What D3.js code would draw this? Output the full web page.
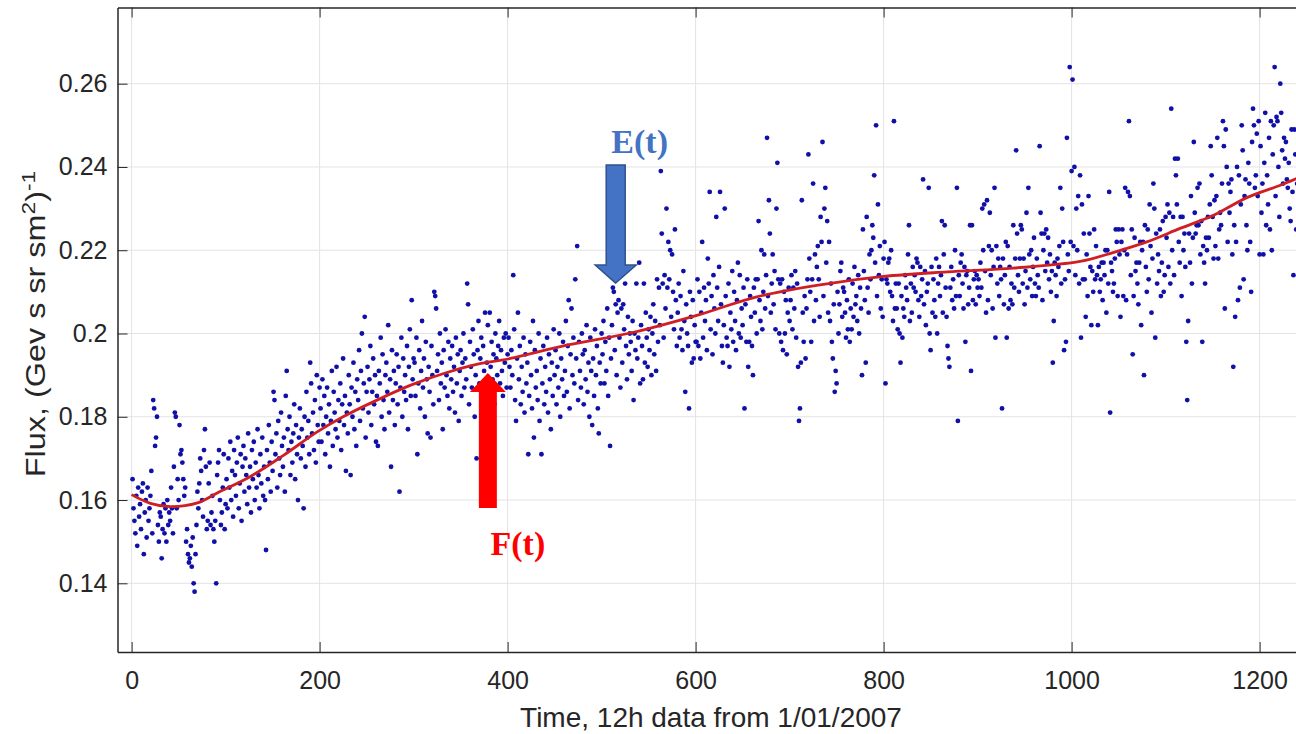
<!DOCTYPE html>
<html lang="en">
<head>
  <meta charset="UTF-8">
  <title>Flux vs time</title>
  <script src="https://d3js.org/d3.v7.min.js"></script>
  <style>
    body { margin: 0; background: #fff; }
    svg { display: block; }
    .axis text { font-family: "Liberation Sans", Arial, sans-serif; font-size: 25px; fill: #262626; }
    .axis path, .axis line { stroke: #262626; }
  </style>
</head>
<body>
<svg width="1296" height="734"></svg>
<script>
// flux values, one per 12h step, t = 1 .. 1240
const flux0001 = [
  0.165, 0.158, 0.155, 0.152, 0.161, 0.149, 0.163, 0.156, 0.159, 0.153,
  0.162, 0.164, 0.147, 0.157, 0.160, 0.151, 0.163, 0.155, 0.158, 0.161,
  0.167, 0.152, 0.184, 0.182, 0.173, 0.175, 0.180, 0.154, 0.150, 0.157,
  0.156, 0.146, 0.153, 0.159, 0.152, 0.158, 0.150, 0.160, 0.154, 0.157,
  0.155, 0.163, 0.158, 0.152, 0.168, 0.181, 0.180, 0.158, 0.165, 0.160,
  0.178, 0.171, 0.172, 0.169, 0.165, 0.161, 0.163, 0.150, 0.153, 0.147,
  0.145, 0.146, 0.149, 0.144, 0.151, 0.140, 0.138, 0.147, 0.154, 0.162,
  0.158, 0.164, 0.170, 0.167, 0.160, 0.156, 0.172, 0.177, 0.168, 0.153,
  0.155, 0.164, 0.169, 0.154, 0.157, 0.161, 0.153, 0.150, 0.155, 0.140,
  0.166, 0.169, 0.172, 0.160, 0.154, 0.157, 0.163, 0.171, 0.153, 0.159
];
const flux0101 = [
  0.165, 0.158, 0.170, 0.163, 0.174, 0.160, 0.167, 0.156, 0.172, 0.166,
  0.161, 0.169, 0.175, 0.158, 0.164, 0.171, 0.155, 0.168, 0.173, 0.162,
  0.170, 0.166, 0.159, 0.176, 0.163, 0.168, 0.157, 0.172, 0.165, 0.174,
  0.160, 0.169, 0.163, 0.177, 0.166, 0.158, 0.171, 0.164, 0.175, 0.161,
  0.168, 0.160, 0.148, 0.172, 0.165, 0.178, 0.169, 0.162, 0.174, 0.167,
  0.186, 0.184, 0.171, 0.176, 0.163, 0.179, 0.170, 0.166, 0.181, 0.173,
  0.168, 0.175, 0.162, 0.185, 0.191, 0.177, 0.172, 0.180, 0.166, 0.174,
  0.169, 0.176, 0.183, 0.165, 0.178, 0.171, 0.160, 0.175, 0.182, 0.170,
  0.177, 0.173, 0.158, 0.180, 0.168, 0.186, 0.175, 0.179, 0.171, 0.193,
  0.188, 0.176, 0.181, 0.172, 0.184, 0.169, 0.190, 0.178, 0.174, 0.187
];
const flux0201 = [
  0.182, 0.174, 0.189, 0.178, 0.185, 0.171, 0.180, 0.187, 0.176, 0.183,
  0.168, 0.179, 0.191, 0.173, 0.186, 0.181, 0.177, 0.192, 0.175, 0.184,
  0.179, 0.188, 0.172, 0.183, 0.194, 0.178, 0.185, 0.167, 0.181, 0.176,
  0.190, 0.183, 0.166, 0.187, 0.180, 0.193, 0.177, 0.186, 0.173, 0.189,
  0.184, 0.196, 0.179, 0.191, 0.200, 0.182, 0.188, 0.204, 0.175, 0.186,
  0.192, 0.181, 0.189, 0.197, 0.178, 0.186, 0.194, 0.183, 0.190, 0.174,
  0.185, 0.173, 0.191, 0.188, 0.199, 0.180, 0.195, 0.184, 0.177, 0.190,
  0.193, 0.186, 0.202, 0.181, 0.189, 0.168, 0.196, 0.184, 0.191, 0.178,
  0.188, 0.195, 0.183, 0.192, 0.162, 0.187, 0.199, 0.180, 0.194, 0.186,
  0.190, 0.184, 0.197, 0.177, 0.192, 0.201, 0.185, 0.208, 0.189, 0.194
];
const flux0301 = [
  0.193, 0.185, 0.199, 0.171, 0.188, 0.196, 0.182, 0.191, 0.203, 0.187,
  0.194, 0.180, 0.198, 0.189, 0.176, 0.192, 0.186, 0.175, 0.197, 0.190,
  0.183, 0.210, 0.209, 0.206, 0.191, 0.195, 0.184, 0.200, 0.188, 0.193,
  0.177, 0.196, 0.187, 0.201, 0.190, 0.185, 0.198, 0.182, 0.194, 0.189,
  0.197, 0.186, 0.192, 0.181, 0.199, 0.188, 0.195, 0.179, 0.191, 0.196,
  0.185, 0.193, 0.200, 0.187, 0.194, 0.189, 0.212, 0.207, 0.183, 0.198,
  0.192, 0.187, 0.201, 0.195, 0.180, 0.190, 0.170, 0.196, 0.203, 0.188,
  0.194, 0.199, 0.185, 0.197, 0.191, 0.205, 0.188, 0.193, 0.202, 0.186,
  0.205, 0.192, 0.198, 0.189, 0.195, 0.183, 0.200, 0.194, 0.190, 0.197,
  0.203, 0.188, 0.196, 0.191, 0.185, 0.199, 0.193, 0.200, 0.187, 0.195
];
const flux0401 = [
  0.199, 0.192, 0.187, 0.196, 0.190, 0.214, 0.201, 0.184, 0.179, 0.194,
  0.205, 0.189, 0.197, 0.183, 0.192, 0.186, 0.199, 0.181, 0.195, 0.188,
  0.193, 0.171, 0.185, 0.198, 0.190, 0.182, 0.203, 0.175, 0.196, 0.187,
  0.191, 0.184, 0.200, 0.179, 0.194, 0.171, 0.188, 0.197, 0.183, 0.192,
  0.186, 0.199, 0.181, 0.195, 0.189, 0.177, 0.193, 0.185, 0.201, 0.190,
  0.196, 0.183, 0.192, 0.187, 0.200, 0.180, 0.194, 0.189, 0.198, 0.185,
  0.191, 0.203, 0.186, 0.197, 0.208, 0.182, 0.195, 0.206, 0.190, 0.199,
  0.188, 0.213, 0.194, 0.221, 0.184, 0.198, 0.191, 0.187, 0.200, 0.195,
  0.183, 0.196, 0.189, 0.202, 0.186, 0.193, 0.180, 0.199, 0.191, 0.178,
  0.194, 0.185, 0.201, 0.190, 0.197, 0.182, 0.176, 0.193, 0.188, 0.200
];
const flux0501 = [
  0.195, 0.203, 0.188, 0.198, 0.191, 0.206, 0.185, 0.199, 0.173, 0.194,
  0.202, 0.211, 0.210, 0.196, 0.207, 0.190, 0.205, 0.208, 0.199, 0.187,
  0.206, 0.193, 0.207, 0.201, 0.212, 0.197, 0.189, 0.204, 0.195, 0.200,
  0.198, 0.191, 0.203, 0.184, 0.200, 0.196, 0.212, 0.194, 0.199, 0.217,
  0.188, 0.202, 0.197, 0.189, 0.212, 0.193, 0.205, 0.199, 0.192, 0.201,
  0.196, 0.204, 0.190, 0.200, 0.207, 0.195, 0.203, 0.191, 0.213, 0.198,
  0.211, 0.202, 0.239, 0.224, 0.212, 0.199, 0.214, 0.206, 0.230, 0.211,
  0.222, 0.213, 0.220, 0.204, 0.219, 0.210, 0.201, 0.225, 0.208, 0.197,
  0.205, 0.212, 0.199, 0.209, 0.201, 0.196, 0.215, 0.203, 0.186, 0.207,
  0.200, 0.197, 0.182, 0.210, 0.204, 0.193, 0.208, 0.194, 0.202, 0.198
];
const flux0601 = [
  0.198, 0.213, 0.197, 0.210, 0.194, 0.205, 0.222, 0.199, 0.211, 0.203,
  0.208, 0.196, 0.218, 0.212, 0.234, 0.201, 0.209, 0.195, 0.214, 0.206,
  0.200, 0.228, 0.211, 0.203, 0.216, 0.234, 0.207, 0.197, 0.193, 0.202,
  0.230, 0.209, 0.199, 0.197, 0.212, 0.192, 0.205, 0.201, 0.215, 0.198,
  0.210, 0.203, 0.196, 0.208, 0.217, 0.200, 0.214, 0.199, 0.206, 0.202,
  0.211, 0.182, 0.207, 0.198, 0.213, 0.192, 0.198, 0.209, 0.204, 0.197,
  0.190, 0.211, 0.205, 0.213, 0.200, 0.213, 0.227, 0.208, 0.203, 0.220,
  0.201, 0.210, 0.219, 0.206, 0.214, 0.247, 0.209, 0.232, 0.224, 0.205,
  0.212, 0.219, 0.207, 0.215, 0.201, 0.230, 0.241, 0.213, 0.200, 0.212,
  0.198, 0.213, 0.196, 0.210, 0.200, 0.208, 0.195, 0.205, 0.211, 0.203
];
const flux0701 = [
  0.208, 0.214, 0.201, 0.211, 0.206, 0.215, 0.199, 0.212, 0.192, 0.179,
  0.182, 0.193, 0.232, 0.205, 0.198, 0.209, 0.194, 0.206, 0.213, 0.243,
  0.218, 0.210, 0.198, 0.213, 0.236, 0.203, 0.219, 0.208, 0.216, 0.221,
  0.213, 0.204, 0.228, 0.222, 0.246, 0.209, 0.230, 0.235, 0.217, 0.227,
  0.205, 0.222, 0.203, 0.212, 0.198, 0.194, 0.207, 0.186, 0.191, 0.188,
  0.210, 0.200, 0.207, 0.215, 0.217, 0.204, 0.211, 0.210, 0.205, 0.199,
  0.208, 0.201, 0.213, 0.198, 0.206, 0.201, 0.212, 0.204, 0.216, 0.207,
  0.209, 0.203, 0.214, 0.200, 0.211, 0.206, 0.190, 0.225, 0.215, 0.208,
  0.193, 0.228, 0.211, 0.205, 0.219, 0.213, 0.220, 0.226, 0.223, 0.238,
  0.217, 0.250, 0.209, 0.231, 0.214, 0.221, 0.206, 0.213, 0.204, 0.218
];
const flux0801 = [
  0.222, 0.188, 0.213, 0.212, 0.217, 0.218, 0.210, 0.220, 0.209, 0.203,
  0.251, 0.206, 0.212, 0.206, 0.201, 0.212, 0.200, 0.193, 0.209, 0.199,
  0.206, 0.204, 0.214, 0.211, 0.208, 0.219, 0.226, 0.203, 0.212, 0.205,
  0.216, 0.211, 0.214, 0.210, 0.218, 0.217, 0.208, 0.204, 0.216, 0.209,
  0.213, 0.237, 0.207, 0.215, 0.202, 0.210, 0.212, 0.235, 0.200, 0.196,
  0.216, 0.205, 0.213, 0.208, 0.204, 0.218, 0.200, 0.212, 0.216, 0.209,
  0.214, 0.227, 0.205, 0.219, 0.226, 0.211, 0.204, 0.197, 0.194, 0.192,
  0.211, 0.216, 0.208, 0.213, 0.206, 0.220, 0.209, 0.235, 0.179, 0.214,
  0.209, 0.217, 0.219, 0.212, 0.206, 0.216, 0.198, 0.214, 0.215, 0.207,
  0.211, 0.226, 0.191, 0.226, 0.208, 0.213, 0.215, 0.207, 0.214, 0.211
];
const flux0901 = [
  0.213, 0.209, 0.217, 0.211, 0.230, 0.220, 0.231, 0.215, 0.205, 0.232,
  0.208, 0.221, 0.229, 0.214, 0.220, 0.206, 0.216, 0.235, 0.199, 0.221,
  0.212, 0.218, 0.209, 0.216, 0.213, 0.182, 0.218, 0.207, 0.214, 0.222,
  0.199, 0.221, 0.206, 0.216, 0.208, 0.212, 0.207, 0.226, 0.211, 0.218,
  0.244, 0.224, 0.214, 0.210, 0.218, 0.226, 0.225, 0.212, 0.218, 0.207,
  0.215, 0.229, 0.211, 0.235, 0.219, 0.213, 0.220, 0.209, 0.216, 0.223,
  0.212, 0.209, 0.218, 0.214, 0.211, 0.245, 0.229, 0.224, 0.208, 0.220,
  0.224, 0.215, 0.225, 0.217, 0.223, 0.213, 0.219, 0.210, 0.215, 0.193,
  0.203, 0.217, 0.214, 0.209, 0.218, 0.216, 0.221, 0.235, 0.212, 0.230,
  0.222, 0.196, 0.213, 0.198, 0.247, 0.219, 0.215, 0.264, 0.222, 0.239
];
const flux1001 = [
  0.261, 0.221, 0.240, 0.214, 0.230, 0.220, 0.233, 0.212, 0.238, 0.199,
  0.231, 0.213, 0.224, 0.213, 0.204, 0.219, 0.209, 0.233, 0.224, 0.216,
  0.202, 0.215, 0.210, 0.225, 0.213, 0.221, 0.214, 0.202, 0.216, 0.210,
  0.213, 0.217, 0.208, 0.217, 0.214, 0.220, 0.205, 0.220, 0.212, 0.234,
  0.181, 0.217, 0.215, 0.210, 0.212, 0.218, 0.225, 0.222, 0.209, 0.225,
  0.219, 0.204, 0.222, 0.225, 0.209, 0.220, 0.235, 0.208, 0.219, 0.234,
  0.251, 0.233, 0.214, 0.225, 0.195, 0.209, 0.223, 0.215, 0.217, 0.212,
  0.207, 0.217, 0.222, 0.202, 0.220, 0.222, 0.190, 0.226, 0.216, 0.210,
  0.225, 0.213, 0.231, 0.221, 0.205, 0.218, 0.236, 0.230, 0.199, 0.224,
  0.212, 0.219, 0.215, 0.225, 0.209, 0.217, 0.227, 0.210, 0.214, 0.228
];
const flux1101 = [
  0.223, 0.231, 0.216, 0.229, 0.212, 0.254, 0.220, 0.228, 0.214, 0.242,
  0.238, 0.231, 0.242, 0.222, 0.217, 0.228, 0.209, 0.228, 0.220, 0.224,
  0.216, 0.198, 0.184, 0.203, 0.224, 0.217, 0.233, 0.212, 0.223, 0.246,
  0.229, 0.224, 0.226, 0.235, 0.226, 0.236, 0.219, 0.227, 0.198, 0.221,
  0.217, 0.212, 0.223, 0.220, 0.228, 0.223, 0.231, 0.245, 0.238, 0.228,
  0.218, 0.232, 0.221, 0.233, 0.247, 0.218, 0.225, 0.229, 0.226, 0.236,
  0.251, 0.245, 0.206, 0.249, 0.240, 0.222, 0.236, 0.229, 0.234, 0.237,
  0.219, 0.192, 0.226, 0.204, 0.222, 0.240, 0.208, 0.238, 0.211, 0.231,
  0.250, 0.244, 0.213, 0.233, 0.237, 0.226, 0.220, 0.241, 0.236, 0.222,
  0.210, 0.246, 0.254, 0.250, 0.235, 0.238, 0.248, 0.233, 0.251, 0.219
];
const flux1201 = [
  0.245, 0.229, 0.236, 0.219, 0.241, 0.253, 0.226, 0.238, 0.231, 0.247,
  0.225, 0.251, 0.220, 0.243, 0.250, 0.264, 0.233, 0.252, 0.251, 0.240,
  0.228, 0.260, 0.253, 0.244, 0.236, 0.247, 0.242, 0.246, 0.237, 0.235,
  0.241, 0.230, 0.227, 0.249, 0.234, 0.214, 0.249, 0.243, 0.225, 0.236
];

// fitted trend F(t)
const fitT    = [0, 20, 41, 70, 91, 126, 162, 197, 225, 261, 297, 332, 367, 403, 463, 534, 605, 665, 736, 800, 868, 938, 1009, 1045, 1080, 1116, 1151, 1187, 1222, 1240];
const fitFlux = [0.1613, 0.1592, 0.1584, 0.1593, 0.1617, 0.1656, 0.1708, 0.1763, 0.1800, 0.1840, 0.1876, 0.1904, 0.1926, 0.1940, 0.1972, 0.2003, 0.2046, 0.2088, 0.2118, 0.2137, 0.2148, 0.2157, 0.2173, 0.2195, 0.2220, 0.2253, 0.2284, 0.2327, 0.2356, 0.2373];

const xTicks = [0, 200, 400, 600, 800, 1000, 1200];
const yTicks = [0.14, 0.16, 0.18, 0.2, 0.22, 0.24, 0.26];

// annotation arrows: tip position in data units
const arrowE = { label: "E(t)", t: 515, v: 0.2121 };
const arrowF = { label: "F(t)", t: 379, v: 0.1905 };

const data = [flux0001, flux0101, flux0201, flux0301, flux0401, flux0501, flux0601,
              flux0701, flux0801, flux0901, flux1001, flux1101, flux1201]
  .flat()
  .map((v, i) => ({ t: i + 1, v: v }));
const fit = fitT.map((t, i) => ({ t: t, v: fitFlux[i] }));

const plotLeft = 117.5, plotTop = 7.5, plotBottom = 652;
const x = d3.scaleLinear().domain([-15, 1240]).range([plotLeft, plotLeft + 1255 * 0.94]);
const y = d3.scaleLinear().domain([0.1235, 0.2783]).range([plotBottom, plotTop]);
const plotRight = x.range()[1];

const svg = d3.select("svg");

// grid
svg.append("g")
  .selectAll("line")
  .data(xTicks)
  .join("line")
  .attr("x1", d => x(d)).attr("x2", d => x(d))
  .attr("y1", plotTop).attr("y2", plotBottom)
  .attr("stroke", "#e3e3e3").attr("stroke-width", 1);
svg.append("g")
  .selectAll("line")
  .data(yTicks)
  .join("line")
  .attr("x1", plotLeft).attr("x2", plotRight)
  .attr("y1", d => y(d)).attr("y2", d => y(d))
  .attr("stroke", "#e3e3e3").attr("stroke-width", 1);

// axes, MATLAB style (ticks inside)
svg.append("g")
  .attr("class", "axis")
  .attr("transform", `translate(0,${plotBottom})`)
  .call(d3.axisBottom(x).tickValues(xTicks).tickSizeInner(-10).tickSizeOuter(0).tickPadding(19).tickFormat(d3.format("d")));
svg.append("g")
  .attr("class", "axis")
  .attr("transform", `translate(0,${plotTop})`)
  .call(d3.axisTop(x).tickValues(xTicks).tickSizeInner(-10).tickSizeOuter(0).tickFormat(""));
svg.append("g")
  .attr("class", "axis")
  .attr("transform", `translate(${plotLeft},0)`)
  .call(d3.axisLeft(y).tickValues(yTicks).tickSizeInner(-10).tickSizeOuter(0).tickPadding(10).tickFormat(d => d === 0.2 ? "0.2" : d3.format(".2f")(d)));
svg.selectAll(".axis .domain").attr("stroke-width", 1.5).attr("stroke", "#3a3a3a");

// scatter
svg.append("g")
  .selectAll("circle")
  .data(data)
  .join("circle")
  .attr("cx", d => x(d.t))
  .attr("cy", d => y(d.v))
  .attr("r", 2.4)
  .attr("fill", "#1010a8");

// fitted curve
svg.append("path")
  .datum(fit)
  .attr("fill", "none")
  .attr("stroke", "#d01f24")
  .attr("stroke-width", 2.8)
  .attr("d", d3.line().x(d => x(d.t)).y(d => y(d.v)).curve(d3.curveCatmullRom.alpha(0.5)));

// arrows
function arrow(a, dir, len, shaftW, headW, headL, fill, stroke) {
  const tx = x(a.t), ty = y(a.v);
  const s = dir; // +1 arrow points down (tail above), -1 points up
  const pts = [
    [tx, ty],
    [tx - headW / 2, ty - s * headL],
    [tx - shaftW / 2, ty - s * headL],
    [tx - shaftW / 2, ty - s * len],
    [tx + shaftW / 2, ty - s * len],
    [tx + shaftW / 2, ty - s * headL],
    [tx + headW / 2, ty - s * headL]
  ];
  svg.append("polygon")
    .attr("points", pts.map(p => p.join(",")).join(" "))
    .attr("fill", fill)
    .attr("stroke", stroke || "none")
    .attr("stroke-width", 1.5);
  return { tx: tx, ty: ty };
}
const pe = arrow(arrowE, 1, 118, 19, 41, 18, "#4472c4", "#2f528f");
const pf = arrow(arrowF, -1, 135, 18, 36, 19, "#ff0000", null);

svg.append("text")
  .attr("x", pe.tx + 24).attr("y", pe.ty - 130)
  .attr("text-anchor", "middle")
  .style("font-family", "'Liberation Serif', 'Times New Roman', serif")
  .style("font-weight", "bold")
  .style("font-size", "34px")
  .attr("fill", "#4472c4")
  .text(arrowE.label);
svg.append("text")
  .attr("x", pf.tx + 30).attr("y", pf.ty + 182)
  .attr("text-anchor", "middle")
  .style("font-family", "'Liberation Serif', 'Times New Roman', serif")
  .style("font-weight", "bold")
  .style("font-size", "34px")
  .attr("fill", "#ff0000")
  .text(arrowF.label);

// axis titles
svg.append("text")
  .attr("x", 711).attr("y", 727)
  .attr("text-anchor", "middle")
  .style("font-family", "'Liberation Sans', Arial, sans-serif")
  .style("font-size", "28px")
  .attr("fill", "#262626")
  .text("Time, 12h data from 1/01/2007");

const yl = svg.append("text")
  .attr("transform", "translate(45,324) rotate(-90) scale(1.2,1)")
  .attr("text-anchor", "middle")
  .style("font-family", "'Liberation Sans', Arial, sans-serif")
  .style("font-size", "27px")
  .attr("fill", "#262626");
yl.append("tspan").text("Flux, (Gev s sr sm");
yl.append("tspan").attr("dy", -10).style("font-size", "19px").text("2");
yl.append("tspan").attr("dy", 10).text(")");
yl.append("tspan").attr("dy", -10).style("font-size", "19px").text("-1");
</script>
</body>
</html>
